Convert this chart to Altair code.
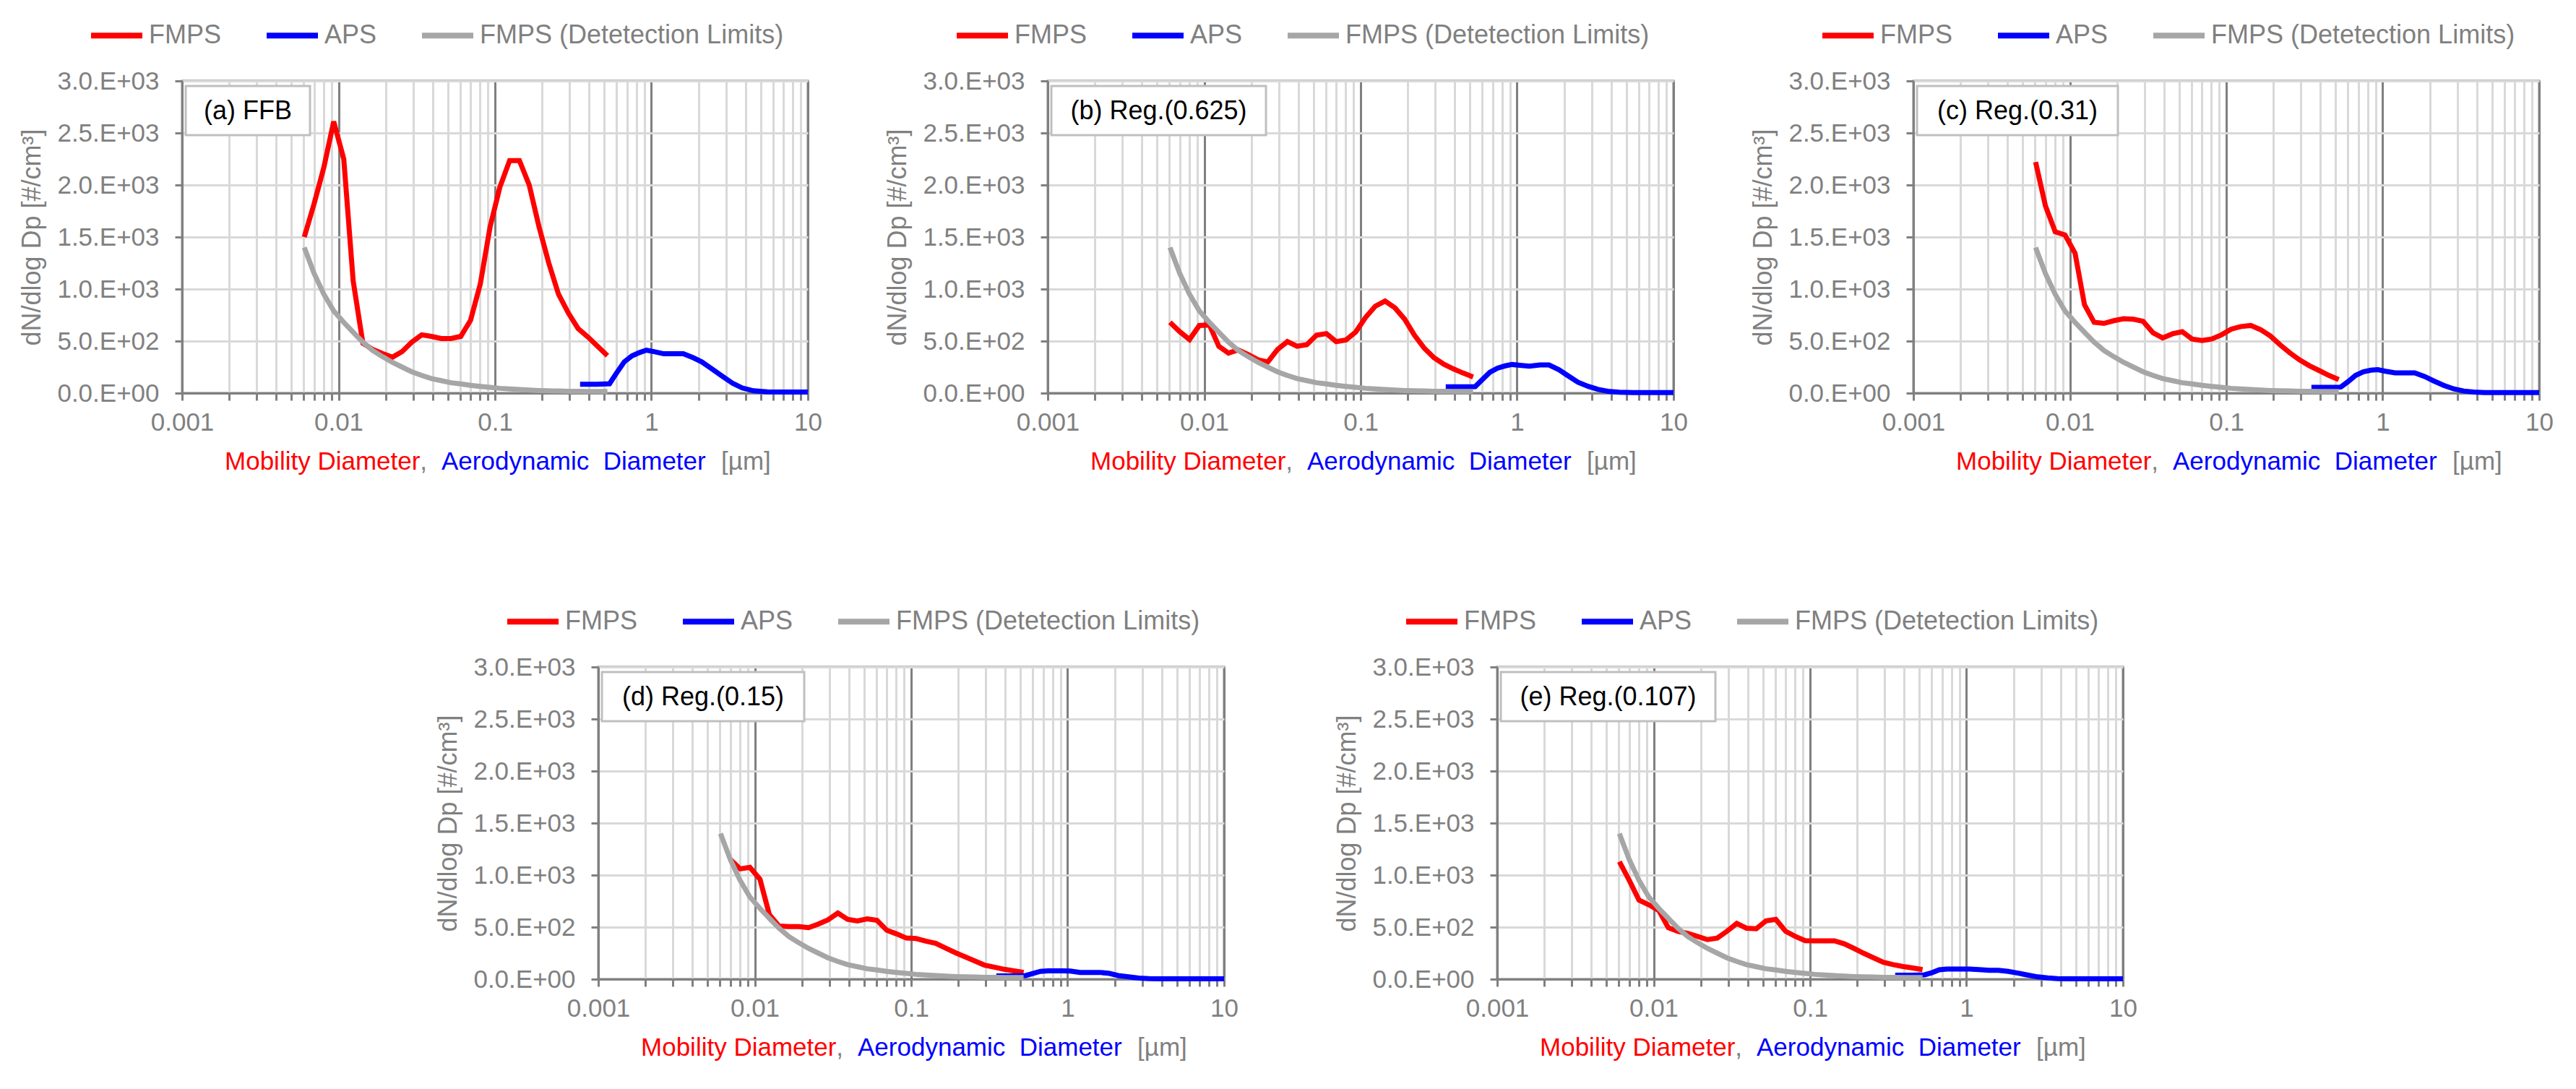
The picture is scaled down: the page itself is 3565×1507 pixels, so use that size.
import altair as alt
import pandas as pd

# ---------------- data ----------------
fmps_diameter = [0.00604, 0.00698, 0.00806, 0.00931, 0.0108, 0.0124, 0.0143, 0.0165,
                 0.0191, 0.0221, 0.0255, 0.0294, 0.0340, 0.0392, 0.0453, 0.0523,
                 0.0604, 0.0698, 0.0806, 0.0931, 0.1075, 0.1241, 0.1433, 0.1655,
                 0.1911, 0.2207, 0.2548, 0.2943, 0.3398, 0.3924, 0.4532, 0.5233]

fmps_detection_limit = [1400, 1150, 950, 790, 680, 585, 490, 410, 350, 295, 250, 205,
                        170, 140, 120, 100, 88, 75, 64, 55, 46, 40, 34, 29, 25, 22,
                        20, 18, 17, 16, 15, 15]

fmps_ffb = [1500, 1820, 2170, 2610, 2250, 1080, 480, 420, 380, 345, 400, 490,
            560, 545, 525, 525, 545, 700, 1050, 1600, 1980, 2235, 2235, 2000,
            1600, 1250, 950, 770, 620, 540, 450, 360]
fmps_reg_0625 = [680, 590, 515, 650, 655, 450, 385, 415, 370, 320, 300, 418,
                 495, 450, 465, 557, 572, 495, 510, 588, 727, 835, 885, 820,
                 711, 557, 433, 340, 278, 232, 192, 155]
fmps_reg_031 = [2220, 1800, 1550, 1520, 1345, 850, 680, 670, 696, 715, 710, 690,
                580, 530, 570, 590, 520, 505, 520, 560, 615, 640, 650, 610,
                550, 464, 387, 319, 263, 217, 170, 130]
fmps_reg_015 = [None, 1150, 1060, 1075, 960, 620, 510, 505, 505, 495, 530, 570,
                635, 575, 560, 580, 565, 470, 435, 395, 390, 365, 345, 300,
                255, 215, 175, 135, 115, 95, 80, 65]
fmps_reg_0107 = [1130, 950, 760, 715, 660, 495, 460, 440, 410, 380, 395, 460,
                 535, 490, 485, 560, 575, 460, 410, 370, 368, 368, 368, 340,
                 295, 248, 205, 162, 140, 122, 108, 92]

aps_diameter = [0.35, 0.45, 0.54, 0.6, 0.67, 0.75, 0.84, 0.93, 1.04, 1.2, 1.4,
                1.6, 1.85, 2.1, 2.45, 2.85, 3.3, 3.8, 4.5, 5.5, 7.0, 10.0]
aps_ffb = [85, 85, 90, 195, 300, 358, 390, 413, 398, 378, 378, 378, 340, 300,
           230, 160, 95, 50, 22, 12, 10, 10]
aps_reg_0625 = [60, 60, 62, 130, 200, 240, 262, 275, 268, 258, 270, 270, 225, 170,
                105, 65, 35, 18, 8, 5, 5, 5]
aps_reg_031 = [55, 55, 58, 110, 170, 205, 220, 225, 210, 195, 195, 195, 160, 120,
               75, 40, 20, 10, 6, 5, 5, 5]
aps_reg_015 = [32, 32, 35, 55, 75, 80, 80, 80, 78, 65, 65, 65, 55, 35,
               22, 10, 5, 3, 3, 3, 3, 3]
aps_reg_0107 = [38, 38, 42, 62, 90, 97, 97, 97, 97, 92, 85, 85, 75, 60,
                40, 22, 12, 6, 4, 3, 3, 3]

panel_labels = ["(a) FFB", "(b) Reg.(0.625)", "(c) Reg.(0.31)",
                "(d) Reg.(0.15)", "(e) Reg.(0.107)"]
fmps_series = [fmps_ffb, fmps_reg_0625, fmps_reg_031, fmps_reg_015, fmps_reg_0107]
aps_series = [aps_ffb, aps_reg_0625, aps_reg_031, aps_reg_015, aps_reg_0107]

series_names = ["FMPS", "APS", "FMPS (Detetection Limits)"]
series_colors = ["#FF0000", "#0000FF", "#A6A6A6"]

x_decades = [0.001, 0.01, 0.1, 1, 10]
x_tick_labels = ["0.001", "0.01", "0.1", "1", "10"]
x_ticks = [round(m * d, 6) for d in x_decades[:-1] for m in range(1, 10)] + [10]
y_ticks = [0, 500, 1000, 1500, 2000, 2500, 3000]
y_tick_labels = ["0.0.E+00", "5.0.E+02", "1.0.E+03", "1.5.E+03",
                 "2.0.E+03", "2.5.E+03", "3.0.E+03"]

x_title_parts = ["Mobility Diameter", ",", "Aerodynamic\u00a0 Diameter", "[\u00b5m]"]
x_title_colors = ["#FF0000", "#808080", "#0000FF", "#808080"]
y_title = "dN/dlog Dp [#/cm\u00b3]"

# ---------------- styling / layout ----------------
FONT = "Liberation Sans"
GRAY = "#808080"
W, H = 866, 432
box_right = [177, 302, 283, 285, 302]
FS = 35      # tick labels
LFS = 36     # legend / box labels / y title
TFS = 35     # x title pieces


def ternary(values, labels):
    expr = "''"
    for v, lab in reversed(list(zip(values, labels))):
        expr = f"datum.value == {v} ? '{lab}' : " + expr
    return expr


x_label_expr = ternary(x_decades, x_tick_labels)
y_label_expr = ternary(y_ticks, y_tick_labels)
major_test = "indexof([" + ",".join(str(v) for v in x_decades) + "], datum.value) >= 0"

x_axis = alt.Axis(
    values=x_ticks, labelExpr=x_label_expr, title=None,
    grid=True,
    gridColor={"condition": {"test": major_test, "value": "#7F7F7F"}, "value": "#D9D9D9"},
    gridWidth=3,
    tickColor=GRAY, tickSize=10, tickWidth=3,
    domainColor=GRAY, domainWidth=3,
    labelFont=FONT, labelFontSize=FS, labelColor=GRAY, labelPadding=13,
    labelFlush=False, labelOverlap=False,
)
y_axis = alt.Axis(
    values=y_ticks, labelExpr=y_label_expr,
    grid=True, gridColor="#D9D9D9", gridWidth=3,
    tickColor=GRAY, tickSize=10, tickWidth=3,
    domainColor=GRAY, domainWidth=3,
    labelFont=FONT, labelFontSize=FS, labelColor=GRAY, labelPadding=22,
    labelLimit=400,
    title=y_title, titleFont=FONT, titleFontSize=LFS, titleColor=GRAY,
    titleFontWeight="normal", titleAngle=270, titleX=-208, titleY=H / 2,
    titleAlign="center", titleBaseline="middle",
)
x_enc = alt.X("d:Q", scale=alt.Scale(type="log", domain=[0.001, 10], nice=False), axis=x_axis)
y_enc = alt.Y("v:Q", scale=alt.Scale(domain=[0, 3000], nice=False), axis=y_axis)
color_scale = alt.Scale(domain=series_names, range=series_colors)


def panel(i):
    fm = [(series_names[0], d, v) for d, v in zip(fmps_diameter, fmps_series[i]) if v is not None]
    ap = [(series_names[1], d, v) for d, v in zip(aps_diameter, aps_series[i])]
    dl = [(series_names[2], d, v) for d, v in zip(fmps_diameter, fmps_detection_limit)]
    layers = []
    # label box
    lab = pd.DataFrame({"t": [panel_labels[i]]})
    layers.append(alt.Chart(lab).mark_rect(fill="white", stroke="#BFBFBF", strokeWidth=3).encode(
        x=alt.value(5), x2=alt.value(box_right[i]), y=alt.value(7), y2=alt.value(75)))
    layers.append(alt.Chart(lab).mark_text(font=FONT, fontSize=LFS, color="black",
                                           align="center", baseline="middle").encode(
        x=alt.value((5 + box_right[i]) / 2), y=alt.value(42), text="t:N"))
    for k, rows in enumerate([fm, ap, dl]):
        df = pd.DataFrame(rows, columns=["series", "d", "v"])
        legend = None
        if k == 0:
            legend = alt.Legend(orient="none", legendX=-130, legendY=-102.5, direction="horizontal",
                                title=None, symbolType="stroke", symbolSize=5041,
                                symbolStrokeWidth=8, labelFont=FONT, labelFontSize=LFS,
                                labelColor=GRAY, labelOffset=5, columnPadding=46,
                                padding=0, labelLimit=800)
        color = alt.Color("series:N", scale=color_scale, legend=legend)
        layers.append(alt.Chart(df).mark_line(strokeWidth=7).encode(x=x_enc, y=y_enc, color=color))
    # x-axis title in coloured pieces
    red_w = 7.723 * TFS
    pieces = [(x_title_parts[0], x_title_colors[0], 59),
              (x_title_parts[1], x_title_colors[1], 59 + red_w),
              (x_title_parts[2], x_title_colors[2], 359),
              (x_title_parts[3], x_title_colors[3], 746)]
    for text, col, xp in pieces:
        layers.append(alt.Chart(pd.DataFrame({"t": [text]})).mark_text(
            font=FONT, fontSize=TFS, color=col, align="left", baseline="middle").encode(
            x=alt.value(xp), y=alt.value(H + 95), text="t:N"))
    return alt.layer(*layers).properties(width=W, height=H)


row1 = alt.hconcat(panel(0), panel(1), panel(2), spacing=332, bounds="flush").resolve_scale(color="independent")
row2 = alt.hconcat(panel(3), panel(4), spacing=378, bounds="flush").resolve_scale(color="independent")

chart = alt.vconcat(row1, row2, spacing=160, center=True).resolve_scale(
    color="independent"
).properties(
    padding={"left": 16, "top": 0, "right": 10, "bottom": 10}
).configure_view(stroke=GRAY, strokeWidth=3)

chart.save("out.html", embed_options={"renderer": "svg", "actions": False})
